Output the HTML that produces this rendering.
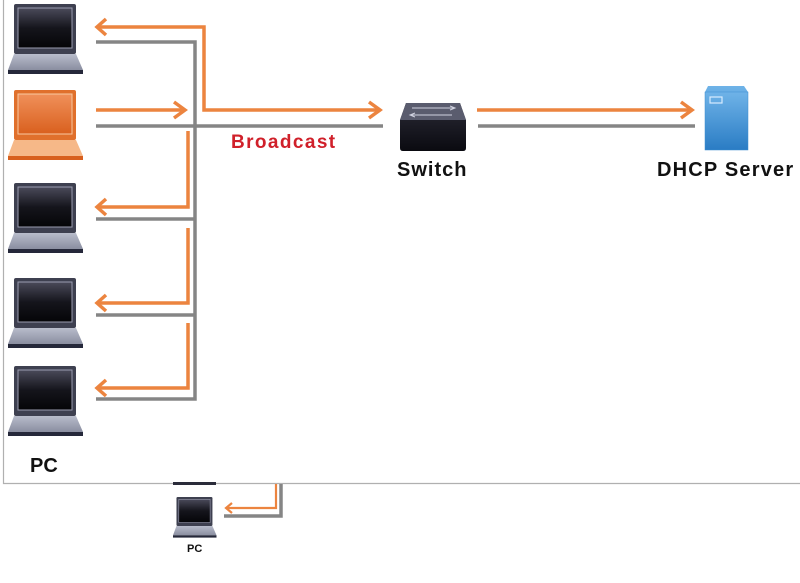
<!DOCTYPE html>
<html><head><meta charset="utf-8"><style>
html,body{margin:0;padding:0;background:#fff;}
body{width:800px;height:583px;position:relative;overflow:hidden;font-family:"Liberation Sans","DejaVu Sans",sans-serif;}
.t{position:absolute;font-weight:bold;white-space:nowrap;}
</style></head><body>
<svg width="800" height="583" style="position:absolute;left:0;top:0">
<defs>
<linearGradient id="scr" x1="0" y1="0" x2="0" y2="1"><stop offset="0" stop-color="#4a4a5a"/><stop offset="0.5" stop-color="#15151c"/><stop offset="1" stop-color="#050508"/></linearGradient>
<linearGradient id="base" x1="0" y1="0" x2="0" y2="1"><stop offset="0" stop-color="#b8bccb"/><stop offset="1" stop-color="#8a8ea0"/></linearGradient>
<linearGradient id="oscr" x1="0" y1="0" x2="0" y2="1"><stop offset="0" stop-color="#f0905a"/><stop offset="1" stop-color="#d9601e"/></linearGradient>
<linearGradient id="srv" x1="0" y1="0" x2="0" y2="1"><stop offset="0" stop-color="#6fb3e8"/><stop offset="1" stop-color="#2a7cc4"/></linearGradient>
<linearGradient id="sw" x1="0" y1="0" x2="0" y2="1"><stop offset="0" stop-color="#2a2a36"/><stop offset="1" stop-color="#0a0a10"/></linearGradient>
<g id="lap">
<rect x="6" y="0" width="62" height="50" rx="2" fill="#3e4050"/>
<rect x="10" y="4" width="54" height="40" fill="url(#scr)" stroke="#9a9cb0" stroke-width="1"/>
<path d="M6 50 L68 50 L75 66 L0 66 Z" fill="url(#base)"/>
<rect x="0" y="66" width="75" height="4" fill="#25283a"/>
</g>
<g id="olap">
<rect x="6" y="0" width="62" height="50" rx="2" fill="#e0702c"/>
<rect x="10" y="4" width="54" height="40" fill="url(#oscr)" stroke="#f8c8a0" stroke-width="1"/>
<path d="M6 50 L68 50 L75 66 L0 66 Z" fill="#f6b888"/>
<rect x="0" y="66" width="75" height="4" fill="#d8601e"/>
</g>
</defs>
<path d="M3.5 0 V483.5 H800" fill="none" stroke="#b0b0b0" stroke-width="1.2"/>
<use href="#lap" x="8" y="4"/>
<use href="#olap" x="8" y="90"/>
<use href="#lap" x="8" y="183"/>
<use href="#lap" x="8" y="278"/>
<use href="#lap" x="8" y="366"/>
<g stroke="#858585" stroke-width="3.5" fill="none">
<path d="M96 42 H195 V399 H96"/>
<path d="M96 126 H383"/>
<path d="M96 219 H195"/>
<path d="M96 315 H195"/>
<path d="M478 126 H695"/>
<path d="M281 484 V516 H224"/>
</g>
<g stroke="#ec843f" stroke-width="3.5" fill="none" stroke-linejoin="miter">
<path d="M99 27 H204 V110 H379"/>
<path d="M369 102 L380 110 L369 118"/>
<path d="M106 19 L97 27 L106 35"/>
<path d="M96 110 H184"/>
<path d="M174 102 L185 110 L174 118"/>
<path d="M188 131 V207 H99"/>
<path d="M106 199 L97 207 L106 215"/>
<path d="M188 228 V303 H99"/>
<path d="M106 295 L97 303 L106 311"/>
<path d="M188 323 V388 H99"/>
<path d="M106 380 L97 388 L106 396"/>
<path d="M477 110 H691"/>
<path d="M681 102 L692 110 L681 118"/>
</g>
<g stroke="#ec843f" stroke-width="2.2" fill="none">
<path d="M276 484 V508 H227"/>
<path d="M232 503 L226 508 L232 513"/>
</g>
<path d="M406 103 H460 L466 120 V148 Q466 151 463 151 H403 Q400 151 400 148 V120 Z" fill="url(#sw)"/>
<path d="M406 103 H460 L466 120 H400 Z" fill="#5a5c6e"/>
<g stroke="#d0d2e0" stroke-width="1" fill="none"><path d="M412 108 H455 M450 106 L455 108 L450 110 M410 115 H452 M415 113 L410 115 L415 117"/></g>
<path d="M708 86 H744 L748 92 V150 H705 V92 Z" fill="url(#srv)"/>
<rect x="705" y="92" width="43" height="58" fill="url(#srv)" stroke="#3d8ed0" stroke-width="0.5"/>
<rect x="710" y="97" width="12" height="6" fill="none" stroke="#d8ecff" stroke-width="1.2"/>
<rect x="173" y="482" width="43" height="3" fill="#2a2c3a"/>
<g transform="translate(173,497) scale(0.58)"><use href="#lap"/></g>
</svg>
<div class="t" style="left:231px;top:132px;font-size:19px;letter-spacing:1.4px;color:#d0202a;">Broadcast</div>
<div class="t" style="left:397px;top:159px;font-size:20px;letter-spacing:1px;color:#111;">Switch</div>
<div class="t" style="left:657px;top:159px;font-size:20px;letter-spacing:1.2px;color:#111;">DHCP Server</div>
<div class="t" style="left:30px;top:455px;font-size:20px;color:#111;">PC</div>
<div class="t" style="left:187px;top:543px;font-size:11px;color:#111;">PC</div>
</body></html>
